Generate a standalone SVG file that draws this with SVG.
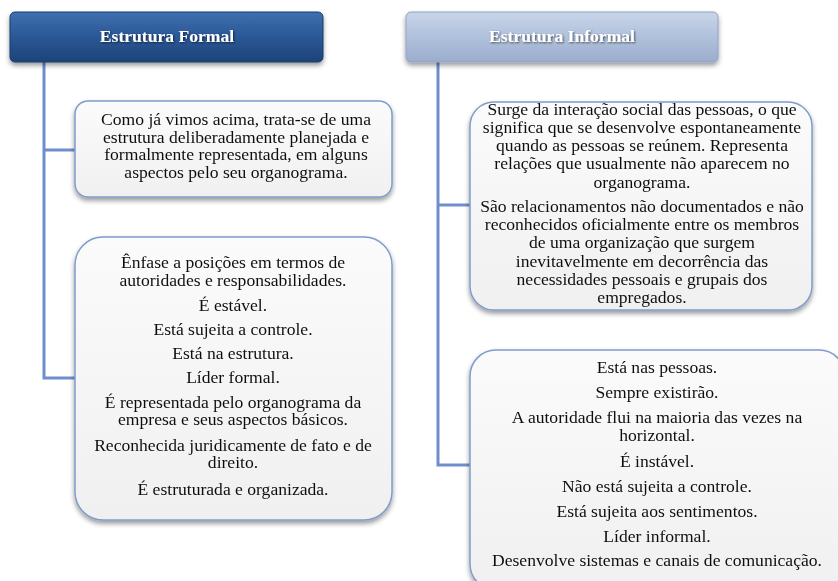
<svg xmlns="http://www.w3.org/2000/svg" width="838" height="581" viewBox="0 0 838 581">
<defs>
<linearGradient id="gDark" x1="0" y1="0" x2="0" y2="1">
<stop offset="0" stop-color="#3f6fae"/>
<stop offset="0.5" stop-color="#2a5896"/>
<stop offset="1" stop-color="#1d4378"/>
</linearGradient>
<linearGradient id="gLight" x1="0" y1="0" x2="0" y2="1">
<stop offset="0" stop-color="#c9d5e8"/>
<stop offset="0.5" stop-color="#b0c1dc"/>
<stop offset="1" stop-color="#9badcc"/>
</linearGradient>
<linearGradient id="gBox" x1="0" y1="0" x2="0" y2="1">
<stop offset="0" stop-color="#fbfbfb"/>
<stop offset="1" stop-color="#f0f0f0"/>
</linearGradient>
<filter id="sh" x="-10%" y="-10%" width="120%" height="130%">
<feGaussianBlur in="SourceAlpha" stdDeviation="2.5"/>
<feOffset dx="0" dy="3" result="b"/>
<feComponentTransfer><feFuncA type="linear" slope="0.4"/></feComponentTransfer>
<feMerge><feMergeNode/><feMergeNode in="SourceGraphic"/></feMerge>
</filter>
<filter id="tsh" x="-5%" y="-20%" width="110%" height="140%">
<feGaussianBlur in="SourceAlpha" stdDeviation="0.8"/>
<feOffset dx="1" dy="1"/>
<feComponentTransfer><feFuncA type="linear" slope="0.6"/></feComponentTransfer>
<feMerge><feMergeNode/><feMergeNode in="SourceGraphic"/></feMerge>
</filter>
</defs>
<style>
.conn{fill:none;stroke:#6e8fcb;stroke-width:3}
.box{fill:url(#gBox);stroke:#7f9ccc;stroke-width:1.5}
.hd{font-family:"Liberation Serif",serif;font-size:16px;font-weight:bold;fill:#ffffff;text-anchor:middle}
.t{font-family:"Liberation Serif",serif;font-size:16px;fill:#111111;text-anchor:middle}
</style>
<rect width="838" height="581" fill="#ffffff"/>
<g id="connectors">
<path class="conn" d="M44 62 V378 H75 M44 150 H75"/>
<path class="conn" d="M438 62 V465 H470 M438 205 H470"/>
</g>
<g id="formal-header" filter="url(#sh)">
<rect x="10" y="12" width="313" height="50" rx="5" fill="url(#gDark)" stroke="#1b3c6c" stroke-width="1"/>
<text class="hd" x="167" y="42" transform="matrix(1.1,0,0,1,-16.7,0)" filter="url(#tsh)">Estrutura Formal</text>
</g>
<g id="informal-header" filter="url(#sh)">
<rect x="406" y="12" width="312" height="50" rx="5" fill="url(#gLight)" stroke="#8fa3c6" stroke-width="1"/>
<text class="hd" x="562" y="42" transform="matrix(1.1,0,0,1,-56.2,0)" filter="url(#tsh)">Estrutura Informal</text>
</g>
<g id="formal-box1" filter="url(#sh)">
<rect class="box" x="75" y="101" width="317" height="96" rx="13"/>
<g transform="matrix(1.1,0,0,1,-23.6,0)">
<text class="t" x="236" y="125">Como já vimos acima, trata-se de uma</text>
<text class="t" x="236" y="143">estrutura deliberadamente planejada e</text>
<text class="t" x="236" y="160">formalmente representada, em alguns</text>
<text class="t" x="236" y="178">aspectos pelo seu organograma.</text>
</g>
</g>
<g id="formal-box2" filter="url(#sh)">
<rect class="box" x="75" y="237" width="317" height="283" rx="28"/>
<g transform="matrix(1.1,0,0,1,-23.3,0)">
<text class="t" x="233" y="268">Ênfase a posições em termos de</text>
<text class="t" x="233" y="286">autoridades e responsabilidades.</text>
<text class="t" x="233" y="311">É estável.</text>
<text class="t" x="233" y="335">Está sujeita a controle.</text>
<text class="t" x="233" y="359">Está na estrutura.</text>
<text class="t" x="233" y="383">Líder formal.</text>
<text class="t" x="233" y="408">É representada pelo organograma da</text>
<text class="t" x="233" y="425">empresa e seus aspectos básicos.</text>
<text class="t" x="233" y="451">Reconhecida juridicamente de fato e de</text>
<text class="t" x="233" y="468">direito.</text>
<text class="t" x="233" y="495">É estruturada e organizada.</text>
</g>
</g>
<g id="informal-box1" filter="url(#sh)">
<rect class="box" x="470" y="102" width="342" height="208" rx="24"/>
<g transform="matrix(1.1,0,0,1,-64.2,0)">
<text class="t" x="642" y="115">Surge da interação social das pessoas, o que</text>
<text class="t" x="642" y="133">significa que se desenvolve espontaneamente</text>
<text class="t" x="642" y="151">quando as pessoas se reúnem. Representa</text>
<text class="t" x="642" y="169">relações que usualmente não aparecem no</text>
<text class="t" x="642" y="188">organograma.</text>
<text class="t" x="642" y="212">São relacionamentos não documentados e não</text>
<text class="t" x="642" y="230">reconhecidos oficialmente entre os membros</text>
<text class="t" x="642" y="248">de uma organização que surgem</text>
<text class="t" x="642" y="267">inevitavelmente em decorrência das</text>
<text class="t" x="642" y="285">necessidades pessoais e grupais dos</text>
<text class="t" x="642" y="303">empregados.</text>
</g>
</g>
<g id="informal-box2" filter="url(#sh)">
<rect class="box" x="470" y="350" width="375" height="240" rx="26"/>
<g transform="matrix(1.1,0,0,1,-65.7,0)">
<text class="t" x="657" y="373">Está nas pessoas.</text>
<text class="t" x="657" y="398">Sempre existirão.</text>
<text class="t" x="657" y="423">A autoridade flui na maioria das vezes na</text>
<text class="t" x="657" y="441">horizontal.</text>
<text class="t" x="657" y="467">É instável.</text>
<text class="t" x="657" y="492">Não está sujeita a controle.</text>
<text class="t" x="657" y="517">Está sujeita aos sentimentos.</text>
<text class="t" x="657" y="542">Líder informal.</text>
<text class="t" x="657" y="566">Desenvolve sistemas e canais de comunicação.</text>
</g>
</g>
</svg>
